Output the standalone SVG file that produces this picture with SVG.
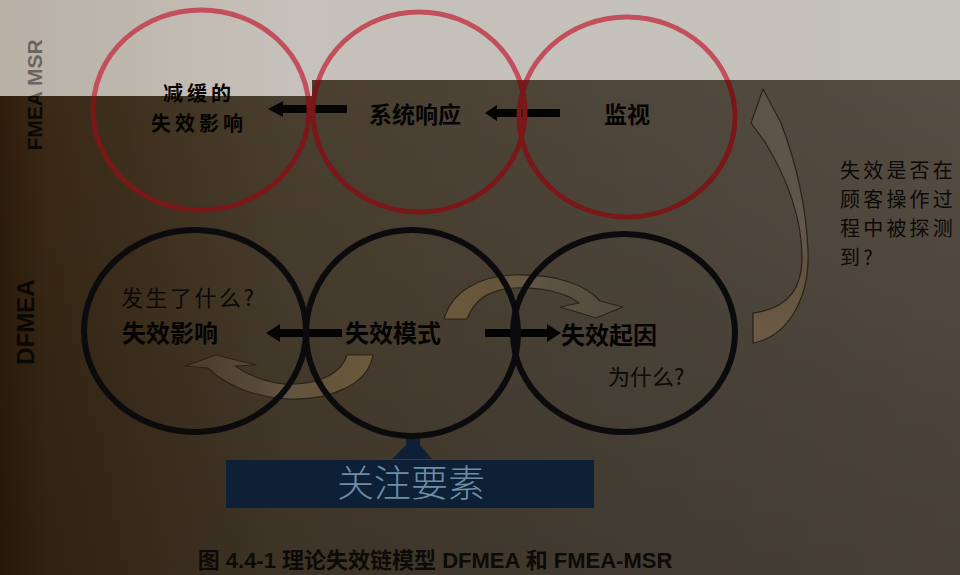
<svg xmlns="http://www.w3.org/2000/svg" width="960" height="575" viewBox="0 0 960 575">
<defs>
  <linearGradient id="lightBg" x1="0" y1="0" x2="1" y2="0">
    <stop offset="0" stop-color="#b8b0a5"/>
    <stop offset="0.3" stop-color="#c6c1ba"/>
    <stop offset="1" stop-color="#c3c2bb"/>
  </linearGradient>
  <linearGradient id="darkBg" x1="0" y1="0" x2="1" y2="0">
    <stop offset="0" stop-color="#2e1d0b"/>
    <stop offset="0.05" stop-color="#3a2915"/>
    <stop offset="0.3" stop-color="#4a3f2f"/>
    <stop offset="0.65" stop-color="#4f473b"/>
    <stop offset="1" stop-color="#564d43"/>
  </linearGradient>
  <linearGradient id="shade" x1="0" y1="0" x2="0" y2="1">
    <stop offset="0" stop-color="#000" stop-opacity="0"/>
    <stop offset="1" stop-color="#000" stop-opacity="0.18"/>
  </linearGradient>
  <linearGradient id="bandA" gradientUnits="userSpaceOnUse" x1="444" y1="0" x2="620" y2="0">
    <stop offset="0" stop-color="#6d5a3c" stop-opacity="0.95"/>
    <stop offset="0.3" stop-color="#6d5a3c" stop-opacity="0.8"/>
    <stop offset="0.6" stop-color="#8a7a62" stop-opacity="0.3"/>
    <stop offset="1" stop-color="#8a7a62" stop-opacity="0.15"/>
  </linearGradient>
  <linearGradient id="bandB" gradientUnits="userSpaceOnUse" x1="373" y1="0" x2="185" y2="0">
    <stop offset="0" stop-color="#6d5a3c" stop-opacity="0.95"/>
    <stop offset="0.3" stop-color="#6d5a3c" stop-opacity="0.8"/>
    <stop offset="0.6" stop-color="#8a7a62" stop-opacity="0.3"/>
    <stop offset="1" stop-color="#8a7a62" stop-opacity="0.15"/>
  </linearGradient>
  <linearGradient id="bandC" gradientUnits="userSpaceOnUse" x1="0" y1="343" x2="0" y2="89">
    <stop offset="0" stop-color="#6e5c44" stop-opacity="0.95"/>
    <stop offset="0.3" stop-color="#6e5c44" stop-opacity="0.6"/>
    <stop offset="0.6" stop-color="#8a7e6e" stop-opacity="0.25"/>
    <stop offset="1" stop-color="#8a7e6e" stop-opacity="0.2"/>
  </linearGradient>
  <clipPath id="clipLight"><path d="M0,0 H960 V80 H312 V96 H0 Z"/></clipPath>
  <clipPath id="clipDark"><path d="M0,96 H312 V80 H960 V575 H0 Z"/></clipPath>
  <style>
    .redL { fill: none; stroke: #c24f5c; stroke-width: 5; }
    .redD { fill: none; stroke: #7a1719; stroke-width: 5; }
    .blk { fill: none; stroke: #0b0b0e; stroke-width: 6; }
    .lbl { font-family: 'Noto Sans CJK SC', sans-serif; font-weight: 700; fill: #050403; }
    .thin { font-family: 'Noto Sans CJK SC', sans-serif; font-weight: 400; fill: #0c0906; }
    .side { font-family: 'Liberation Sans', Arial, sans-serif; font-weight: 700; }
    .arrow { fill: #050404; }
    .band { stroke: #2a2218; stroke-width: 1.2; stroke-linejoin: round; }
  </style>
</defs>

<!-- background (photographed slide) -->
<rect x="0" y="0" width="960" height="575" fill="url(#lightBg)"/>
<path d="M0,96 H312 V80 H960 V575 H0 Z" fill="url(#darkBg)"/>
<path d="M0,96 H312 V80 H960 V575 H0 Z" fill="url(#shade)"/>

<!-- side labels -->
<g id="label-fmea-msr">
  <g clip-path="url(#clipLight)">
    <text class="side" font-size="21" fill="#6a655f" text-anchor="middle" transform="translate(42,95) rotate(-90)">FMEA MSR</text>
  </g>
  <g clip-path="url(#clipDark)">
    <text class="side" font-size="21" fill="#0a0704" text-anchor="middle" transform="translate(42,95) rotate(-90)">FMEA MSR</text>
  </g>
</g>
<g id="label-dfmea">
  <text class="side" font-size="24" fill="#0a0704" text-anchor="middle" transform="translate(34,322) rotate(-90)">DFMEA</text>
</g>

<!-- connectors -->
<g id="connectors">
  <path class="arrow" d="M347,105 H283 V101 L268,109 L283,117 V113 H347 Z"/>
  <path class="arrow" d="M560,109 H497 V105 L485,113 L497,121 V117 H560 Z"/>
  <path class="arrow" d="M342,329 H280 V324 L266,333 L280,342 V337 H342 Z"/>
  <path class="arrow" d="M485,329 H547 V324 L561,333 L547,342 V337 H485 Z"/>
  <path class="band" fill="url(#bandA)" d="M444,319 C452,292 478,276 515,275 C555,274 585,284 600,301 L623,307 L596,318 L560,307 L579,303 C565,292 540,287 515,288 C490,289 474,300 467,319 Z"/>
  <path class="band" fill="url(#bandB)" d="M373,355 C368,385 330,400 290,399 C255,398 225,385 208,368 L185,366 L216,355 L256,365 L235,366 C252,378 275,385 295,384 C322,383 342,372 347,355 Z"/>
  <path class="band" fill="url(#bandC)" d="M753,343 C790,336 810,295 808,250 C806,205 795,160 781,123 L763,89 L751,123 L765,142 C788,180 802,220 802,258 C802,290 786,309 753,313 Z"/>
  <path fill="#0d2035" d="M392,459 L432,459 L420,445 L420,436 L406,436 L406,445 Z"/>
</g>

<!-- top row: FMEA-MSR -->
<g id="node-mitigated-effect">
  <ellipse class="redL" cx="201" cy="110" rx="108" ry="100" clip-path="url(#clipLight)"/>
  <ellipse class="redD" cx="201" cy="110" rx="108" ry="100" clip-path="url(#clipDark)"/>
  <text class="lbl" font-size="20" letter-spacing="4" x="199" y="101" text-anchor="middle">减缓的</text>
  <text class="lbl" font-size="20" letter-spacing="4" x="199" y="131" text-anchor="middle">失效影响</text>
</g>
<g id="node-system-response">
  <ellipse class="redL" cx="419" cy="112" rx="106" ry="100" clip-path="url(#clipLight)"/>
  <ellipse class="redD" cx="419" cy="112" rx="106" ry="100" clip-path="url(#clipDark)"/>
  <text class="lbl" font-size="23" x="415" y="123" text-anchor="middle">系统响应</text>
</g>
<g id="node-monitoring">
  <ellipse class="redL" cx="627" cy="117" rx="108" ry="100" clip-path="url(#clipLight)"/>
  <ellipse class="redD" cx="627" cy="117" rx="108" ry="100" clip-path="url(#clipDark)"/>
  <text class="lbl" font-size="23" x="627" y="123" text-anchor="middle">监视</text>
</g>

<!-- bottom row: DFMEA -->
<g id="node-failure-effect">
  <ellipse class="blk" cx="195" cy="331" rx="111" ry="101"/>
  <text class="thin" font-size="22" x="121" y="306" letter-spacing="2.5">发生了什么?</text>
  <text class="lbl" font-size="24" x="170" y="342" text-anchor="middle">失效影响</text>
</g>
<g id="node-failure-mode">
  <ellipse class="blk" cx="412" cy="333" rx="106" ry="103"/>
  <text class="lbl" font-size="24" x="393" y="342" text-anchor="middle">失效模式</text>
</g>
<g id="node-failure-cause">
  <ellipse class="blk" cx="624" cy="333" rx="111" ry="99"/>
  <text class="lbl" font-size="24" x="609" y="344" text-anchor="middle">失效起因</text>
  <text class="thin" font-size="22" x="608" y="385">为什么?</text>
</g>

<!-- focus element box -->
<g id="node-focus">
  <rect x="226" y="460" width="368" height="48" fill="#0d2035"/>
  <text x="411" y="497" text-anchor="middle" font-family="'Noto Sans CJK SC', sans-serif" font-weight="300" font-size="37" fill="#6f8ea5">关注要素</text>
</g>

<!-- detection question -->
<g id="node-question">
  <text class="thin" font-size="20" fill="#110d09" letter-spacing="3.2">
    <tspan x="840" y="178">失效是否在</tspan>
    <tspan x="840" y="207">顾客操作过</tspan>
    <tspan x="840" y="236">程中被探测</tspan>
    <tspan x="840" y="265">到?</tspan>
  </text>
</g>

<!-- caption -->
<text x="435" y="568" text-anchor="middle" font-family="'Liberation Sans', 'Noto Sans CJK SC', sans-serif" font-weight="700" font-size="22" fill="#0e0a07">图 4.4-1 理论失效链模型 DFMEA 和 FMEA-MSR</text>
</svg>
